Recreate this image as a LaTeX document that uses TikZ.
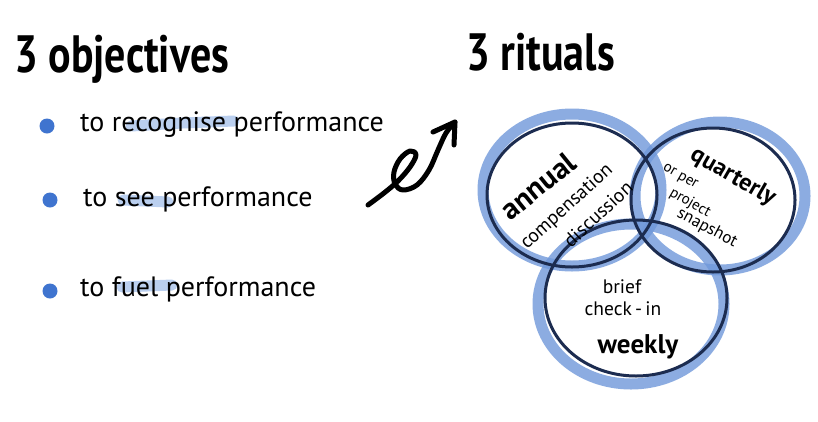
\documentclass[tikz,border=0pt]{standalone}
\usepackage{fontspec}
\usepackage{graphicx}
\setmainfont{PT Sans}
\definecolor{bulletblue}{HTML}{3F74CF}
\definecolor{hlblue}{HTML}{B3CAEE}
\definecolor{washblue}{HTML}{7098DA}
\definecolor{ringnavy}{HTML}{1C2C50}
\tikzset{
  title/.style={font=\fontsize{42}{48}\selectfont\bfseries, anchor=base west, inner sep=0pt},
  item/.style={font=\fontsize{28}{32}\selectfont, anchor=base west, inner sep=0pt},
  dot/.style={circle, fill=bulletblue, minimum size=15pt, inner sep=0pt},
  hl/.style={line width=11pt, hlblue, line cap=round, opacity=0.9},
  wash/.style={line width=11pt, washblue, opacity=0.8},
  ring/.style={line width=3pt, ringnavy},
  big/.style={font=\fontsize{#1}{#1}\selectfont\bfseries, inner sep=0pt},
  small/.style={font=\fontsize{#1}{#1}\selectfont, inner sep=0pt},
  squiggle/.style={line width=5pt, black, line cap=round, line join=round}
}
\begin{document}
\begin{tikzpicture}[x=1pt,y=-1pt]
\path[use as bounding box, fill=white] (0,0) rectangle (818,421);

% titles
\node[title] (t1) at (14,72) {\scalebox{1}[1.25]{3 objectives}};
\node[title] (t2) at (466,70) {\scalebox{1}[1.25]{3 rituals}};

% highlights
\draw[hl] (131,126) -- (182,123) -- (234,121);
\draw[hl] (123,200) -- (168,202);
\draw[hl] (122,287) -- (172,285);

% bullets and items
\node[dot] (b1) at (47,126) {};
\node[dot] (b2) at (50,200) {};
\node[dot] (b3) at (50,291) {};
\node[item] (i1) at (80,131) {to recognise performance};
\node[item] (i2) at (83,206) {to see performance};
\node[item] (i3) at (80,296) {to fuel performance};

% squiggle arrow
\coordinate (as) at (368,205);
\coordinate (at) at (455,122);
\coordinate (al) at (433,132);
\coordinate (ar) at (454,145);
\draw[squiggle] plot[smooth, tension=0.6] coordinates {(as) (384,193) (398,181) (410,167) (416,155) (410,151) (400,159) (394,172) (395,184) (403,190) (417,185) (429,170) (438,150) (446,133) (at)};
\draw[squiggle] (al) -- (at) -- (ar);

% washes
\draw[wash] (572,190) ellipse [x radius=89, y radius=76];
\draw[wash] (720,196) ellipse [x radius=85, y radius=74];
\draw[wash] (631,304) ellipse [x radius=93, y radius=80];

% rings
\draw[ring] (572,195) ellipse [x radius=85, y radius=72];
\draw[ring] (713,200) ellipse [x radius=82, y radius=72];
\draw[ring] (636,298) ellipse [x radius=91, y radius=78];

% ring texts
\node[big=30, rotate=39] (annual) at (538,186) {annual};
\node[small=19.5, rotate=42] (comp) at (567,207) {compensation};
\node[small=19.5, rotate=43] (disc) at (598,214) {discussion};
\node[big=24, rotate=-30] (quart) at (733,177) {quarterly};
\node[small=15, rotate=-30] (orper) at (680,177) {or per};
\node[small=15, rotate=-30] (proj) at (690,203) {project};
\node[small=17, rotate=-28] (snap) at (707,228) {snapshot};
\node[small=19.5] (brief) at (622,287) {brief};
\node[small=19.5] (check) at (623,309) {check\,-\,in};
\node[big=27] (weekly) at (638,347) {weekly};
\end{tikzpicture}
\end{document}
